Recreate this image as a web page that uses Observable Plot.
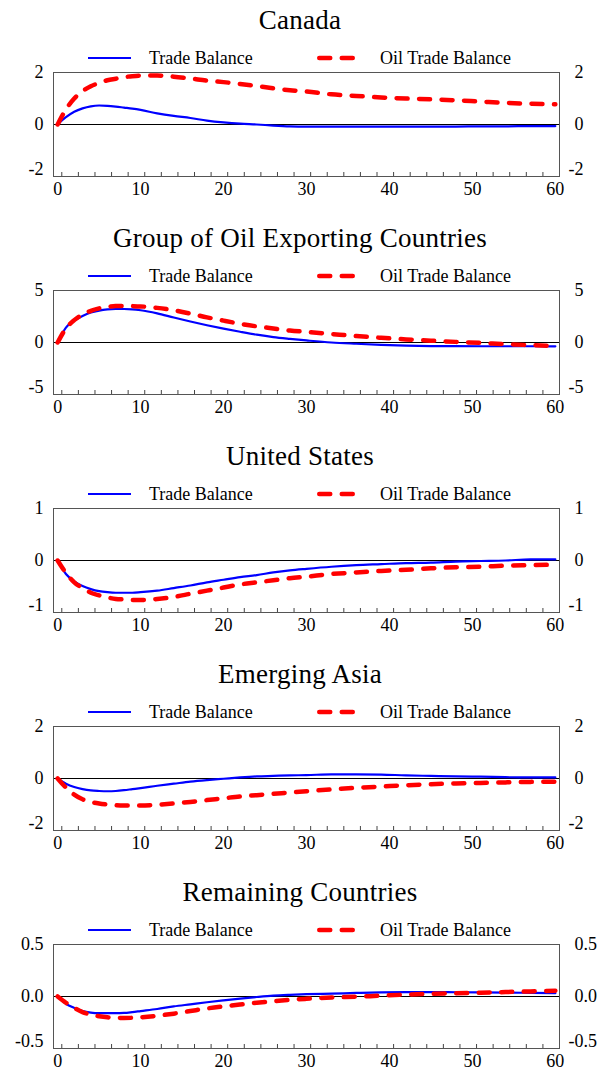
<!DOCTYPE html>
<html><head><meta charset="utf-8">
<script src="https://cdn.jsdelivr.net/npm/d3@7"></script>
<script src="https://cdn.jsdelivr.net/npm/@observablehq/plot@0.6"></script>
<style>
body{margin:0;background:#fff;}
#chart{position:relative;width:600px;height:1072px;font-family:"Liberation Serif","Times New Roman",serif;color:#000;}
.title{position:absolute;left:0;width:600px;text-align:center;font-size:27px;line-height:27px;white-space:nowrap;letter-spacing:0.25px;}
.legtxt{position:absolute;font-size:18px;line-height:18px;white-space:nowrap;}
.swatch{position:absolute;left:0;width:600px;height:12px;overflow:visible;}
.panel{position:absolute;left:0;}
</style></head><body><div id="chart"></div>
<script>
// ---- data ----
const periods = [0,1,2,3,4,5,6,7,8,9,10,12,14,16,18,20,22,24,26,28,30,33,36,39,42,45,48,51,54,57,60];
const panelTitles = ["Canada","Group of Oil Exporting Countries","United States","Emerging Asia","Remaining Countries"];
const seriesNames = ["Trade Balance","Oil Trade Balance"];

const canadaTB  = [0,0.28,0.49,0.62,0.70,0.73,0.72,0.69,0.65,0.61,0.56,0.43,0.33,0.25,0.15,0.08,0.03,0.00,-0.04,-0.07,-0.08,-0.08,-0.08,-0.08,-0.08,-0.08,-0.08,-0.07,-0.07,-0.06,-0.06];
const canadaOTB = [0,0.58,1.00,1.28,1.47,1.60,1.70,1.76,1.82,1.86,1.88,1.88,1.84,1.77,1.69,1.63,1.56,1.48,1.39,1.32,1.27,1.16,1.10,1.04,1.00,0.97,0.93,0.88,0.83,0.80,0.78];
const oilExpTB  = [0,1.43,2.10,2.55,2.88,3.07,3.18,3.22,3.22,3.19,3.10,2.80,2.40,2.02,1.66,1.33,1.03,0.75,0.52,0.35,0.20,0.00,-0.12,-0.22,-0.30,-0.34,-0.35,-0.36,-0.36,-0.36,-0.37];
const oilExpOTB = [0,1.35,2.15,2.70,3.05,3.28,3.42,3.50,3.52,3.50,3.47,3.33,3.10,2.78,2.42,2.10,1.80,1.55,1.35,1.15,1.02,0.82,0.62,0.45,0.30,0.18,0.06,-0.04,-0.16,-0.25,-0.33];
const usTB      = [0,-0.26,-0.40,-0.49,-0.55,-0.59,-0.61,-0.62,-0.62,-0.62,-0.61,-0.58,-0.53,-0.48,-0.42,-0.37,-0.32,-0.28,-0.23,-0.19,-0.16,-0.12,-0.09,-0.07,-0.05,-0.04,-0.02,-0.01,0.00,0.02,0.02];
const usOTB     = [0,-0.24,-0.42,-0.53,-0.62,-0.67,-0.71,-0.74,-0.75,-0.76,-0.76,-0.74,-0.70,-0.64,-0.58,-0.52,-0.46,-0.42,-0.38,-0.34,-0.31,-0.26,-0.23,-0.20,-0.18,-0.15,-0.13,-0.12,-0.10,-0.09,-0.08];
const asiaTB    = [0,-0.20,-0.33,-0.41,-0.46,-0.48,-0.49,-0.48,-0.45,-0.41,-0.37,-0.28,-0.20,-0.12,-0.06,-0.01,0.04,0.08,0.10,0.12,0.13,0.16,0.16,0.15,0.12,0.10,0.08,0.07,0.05,0.04,0.04];
const asiaOTB   = [0,-0.35,-0.62,-0.80,-0.90,-0.96,-1.00,-1.03,-1.04,-1.04,-1.04,-1.01,-0.96,-0.90,-0.83,-0.76,-0.69,-0.64,-0.59,-0.54,-0.49,-0.42,-0.36,-0.31,-0.26,-0.22,-0.19,-0.17,-0.15,-0.13,-0.12];
const restTB    = [0,-0.07,-0.11,-0.14,-0.155,-0.16,-0.16,-0.16,-0.158,-0.15,-0.14,-0.12,-0.095,-0.075,-0.055,-0.037,-0.02,-0.005,0.008,0.016,0.022,0.028,0.034,0.040,0.042,0.042,0.041,0.040,0.038,0.035,0.032];
const restOTB   = [0,-0.06,-0.11,-0.15,-0.175,-0.19,-0.20,-0.205,-0.207,-0.205,-0.20,-0.185,-0.165,-0.14,-0.115,-0.095,-0.077,-0.06,-0.046,-0.032,-0.022,-0.01,-0.002,0.008,0.018,0.026,0.032,0.037,0.043,0.049,0.055];

const yTickValues = [[-2,0,2],[-5,0,5],[-1,0,1],[-2,0,2],[-0.5,0,0.5]];
const yTickLabels = [["-2","0","2"],["-5","0","5"],["-1","0","1"],["-2","0","2"],["-0.5","0.0","0.5"]];
const xLabelValues = [0,10,20,30,40,50,60];

// ---- build ----
const seriesTB  = [canadaTB, oilExpTB, usTB, asiaTB, restTB];
const seriesOTB = [canadaOTB, oilExpOTB, usOTB, asiaOTB, restOTB];

const FONT = '"Liberation Serif","Times New Roman",serif';
const chart = document.getElementById("chart");
const ctx = document.createElement("canvas").getContext("2d");
ctx.font = '18px "Liberation Serif"';

const xMinorTicks = d3.range(0.5, 59, 2);
const DASH = "11,11.5";

panelTitles.forEach((title, i) => {
  const frameTop = 72 + 218 * i;

  const t = document.createElement("div");
  t.className = "title";
  t.style.top = (frameTop - 64.6) + "px";
  t.textContent = title;
  chart.appendChild(t);

  // legend
  const sw = document.createElementNS("http://www.w3.org/2000/svg", "svg");
  sw.setAttribute("class", "swatch");
  sw.setAttribute("width", 600); sw.setAttribute("height", 12);
  sw.style.top = (frameTop - 20.5) + "px";
  sw.innerHTML = `<line x1="88" x2="131" y1="6" y2="6" stroke="#0000ff" stroke-width="2.2"/>
    <line x1="319.25" x2="353" y1="6" y2="6" stroke="#ff0000" stroke-width="4.5" stroke-dasharray="${DASH}" stroke-linecap="round"/>`;
  chart.appendChild(sw);
  [[seriesNames[0], 149], [seriesNames[1], 380]].forEach(([txt, x]) => {
    const l = document.createElement("div");
    l.className = "legtxt";
    l.style.left = x + "px";
    l.style.top = (frameTop - 22.8) + "px";
    l.textContent = txt;
    chart.appendChild(l);
  });

  const data = periods.map((p, k) => ({t: p, tb: seriesTB[i][k], otb: seriesOTB[i][k]}));
  const ticks = yTickValues[i];
  const labs = new Map(ticks.map((v, k) => [v, yTickLabels[i][k]]));
  const fmt = d => labs.get(d);
  const maxW = Math.max(...yTickLabels[i].map(s => ctx.measureText(s).width));

  const plot = Plot.plot({
    width: 600, height: 150,
    marginTop: 10, marginBottom: 36, marginLeft: 53, marginRight: 41,
    x: {domain: [-0.5, 60.5]},
    y: {domain: [ticks[0], ticks[2]]},
    style: {fontFamily: FONT, fontSize: "18px", color: "#000", background: "transparent", overflow: "visible"},
    marks: [
      Plot.ruleY([0], {stroke: "#000", strokeWidth: 1}),
      Plot.line(data, {x: "t", y: "tb", stroke: "#0000ff", strokeWidth: 2.2, curve: "monotone-x"}),
      Plot.line(data, {x: "t", y: "otb", stroke: "#ff0000", strokeWidth: 4.5, strokeDasharray: DASH, strokeLinecap: "round", curve: "monotone-x"}),
      Plot.frame({stroke: "#555"}),
      Plot.axisX(xMinorTicks, {tickSize: 4, dy: -4, tickFormat: () => "", label: null, stroke: "#444"}),
      Plot.axisX(xLabelValues, {tickSize: 0, tickPadding: 6, label: null}),
      Plot.axisY(ticks.slice(1), {anchor: "left", tickSize: 0, tickPadding: 10, tickFormat: fmt, label: null}),
      Plot.axisY([ticks[0]], {anchor: "left", tickSize: 0, tickPadding: 10, dy: -7, tickFormat: fmt, label: null}),
      Plot.axisY(ticks.slice(1), {anchor: "right", tickSize: 0, tickPadding: 9, textAnchor: "end", dx: maxW, tickFormat: fmt, label: null}),
      Plot.axisY([ticks[0]], {anchor: "right", tickSize: 0, tickPadding: 9, textAnchor: "end", dx: maxW, dy: -7, tickFormat: fmt, label: null})
    ]
  });
  const wrap = document.createElement("div");
  wrap.className = "panel";
  wrap.style.top = (frameTop - 10) + "px";
  wrap.appendChild(plot);
  chart.appendChild(wrap);
});
</script></body></html>
